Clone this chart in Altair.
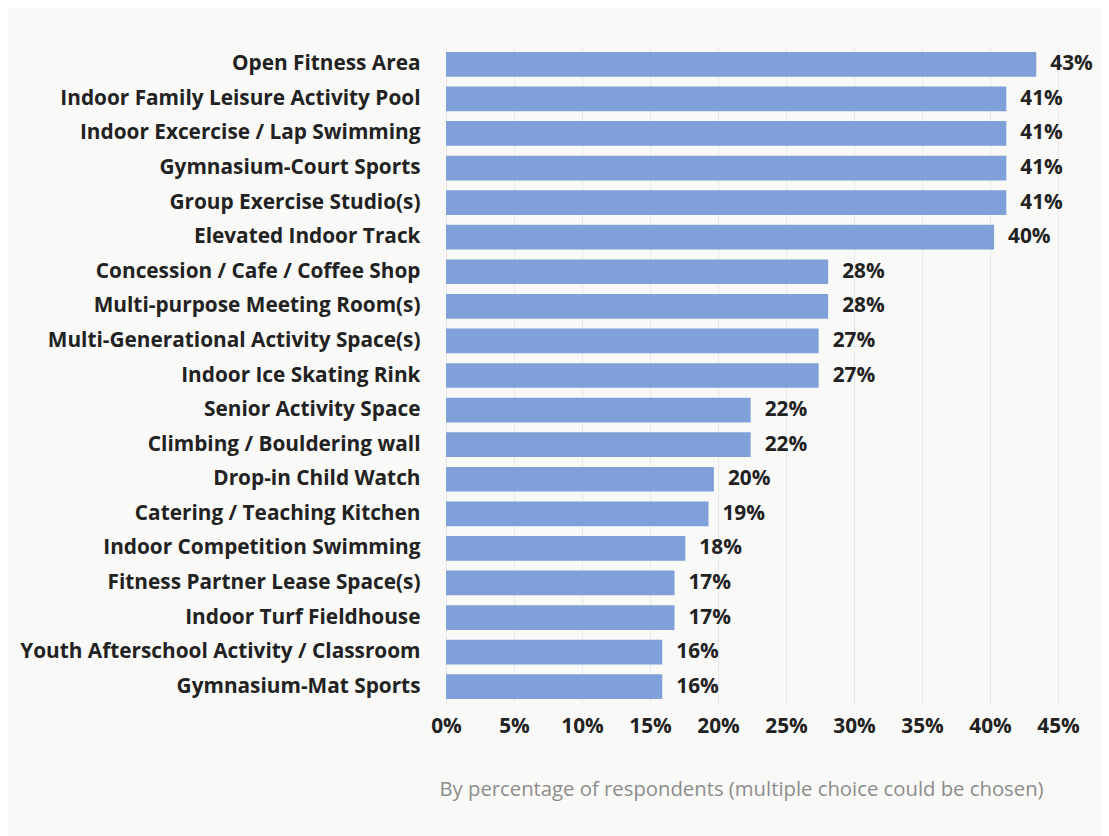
import altair as alt
import pandas as pd

categories = [
    "Open Fitness Area",
    "Indoor Family Leisure Activity Pool",
    "Indoor Excercise / Lap Swimming",
    "Gymnasium-Court Sports",
    "Group Exercise Studio(s)",
    "Elevated Indoor Track",
    "Concession / Cafe / Coffee Shop",
    "Multi-purpose Meeting Room(s)",
    "Multi-Generational Activity Space(s)",
    "Indoor Ice Skating Rink",
    "Senior Activity Space",
    "Climbing / Bouldering wall",
    "Drop-in Child Watch",
    "Catering / Teaching Kitchen",
    "Indoor Competition Swimming",
    "Fitness Partner Lease Space(s)",
    "Indoor Turf Fieldhouse",
    "Youth Afterschool Activity / Classroom",
    "Gymnasium-Mat Sports",
]
values = [0.434, 0.412, 0.412, 0.412, 0.412, 0.403, 0.281, 0.281, 0.274, 0.274,
          0.224, 0.224, 0.197, 0.193, 0.176, 0.168, 0.168, 0.159, 0.159]
x_ticks = [0, 0.05, 0.10, 0.15, 0.20, 0.25, 0.30, 0.35, 0.40, 0.45]
subtitle = "By percentage of respondents (multiple choice could be chosen)"

df = pd.DataFrame({"cat": categories, "val": values})

FONT = "Open Sans"
BAR = "#7fa0d8"
TEXT = "#222222"
FS = 20.8

y_enc = alt.Y(
    "cat:N",
    sort=None,
    title=None,
    scale=alt.Scale(paddingInner=0.285, paddingOuter=0.142),
    axis=alt.Axis(
        labelFont=FONT, labelFontSize=FS, labelFontWeight="bold", labelColor=TEXT,
        labelPadding=26, ticks=False, domain=False, grid=False, labelLimit=500,
    ),
)
x_enc = alt.X(
    "val:Q",
    scale=alt.Scale(domain=[0, 0.45], nice=False, zero=True),
    axis=alt.Axis(
        values=x_ticks, format=".0%", labelFont=FONT, labelFontSize=FS,
        labelFontWeight="bold", labelColor=TEXT, labelPadding=12,
        ticks=False, domain=False, grid=True, gridColor="#e8e8e8", gridWidth=1,
        title=subtitle, titleFont=FONT, titleFontSize=20.3, titleFontWeight="normal",
        titleColor="#8c8c8c", titlePadding=44, titleX=295, titleAlign="center",
        labelFlush=False,
    ),
)

bars = alt.Chart(df).mark_bar(color=BAR).encode(x=x_enc, y=y_enc)
text = alt.Chart(df).mark_text(
    align="left", baseline="middle", dx=14, font=FONT, fontSize=FS,
    fontWeight="bold", color=TEXT,
).encode(x="val:Q", y=alt.Y("cat:N", sort=None), text=alt.Text("val:Q", format=".0%"))

chart = (
    alt.layer(bars, text)
    .properties(
        width=612, height=657,
        autosize=alt.AutoSizeParams(type="none"),
        padding={"left": 438, "top": 39, "right": 43, "bottom": 132},
        background="#f9f9f7",
    )
    .configure_view(stroke=None)
)

chart.save("out.html", embed_options={"renderer": "svg", "actions": False})
